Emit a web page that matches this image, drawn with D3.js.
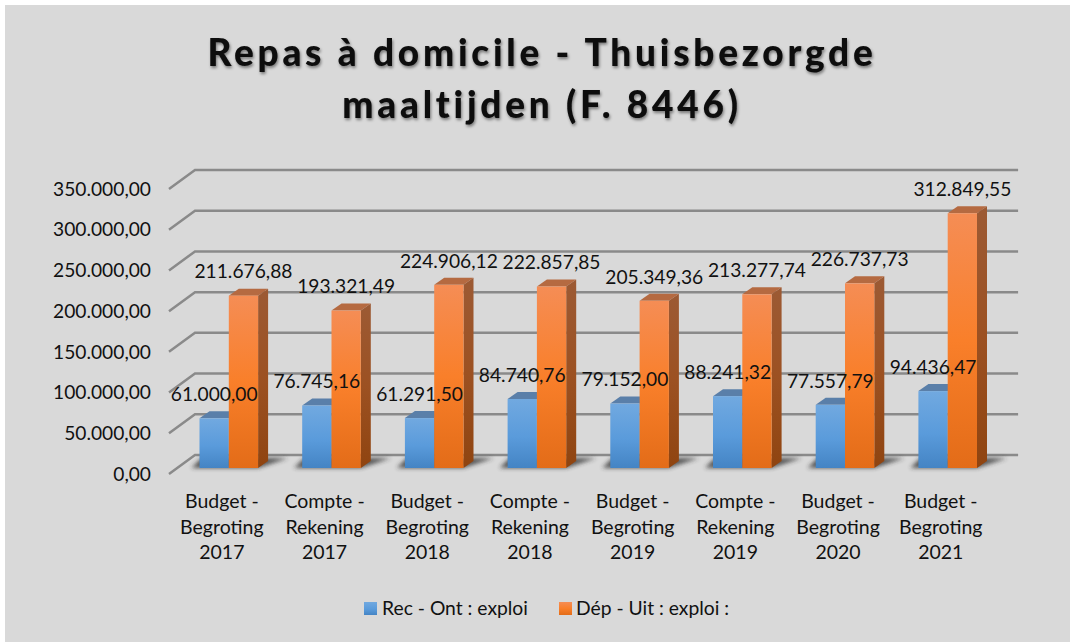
<!DOCTYPE html>
<html>
<head>
<meta charset="utf-8">
<script src="https://cdn.jsdelivr.net/npm/d3@7"></script>
<style>
  html, body { margin: 0; padding: 0; background: #fff; }
  svg { display: block; }
  text { font-family: Lato, sans-serif; fill: #111; }
</style>
</head>
<body>
<div class="chart"></div>
<script>
// data
var categories = [
  ['Budget -', 'Begroting', '2017'],
  ['Compte -', 'Rekening', '2017'],
  ['Budget -', 'Begroting', '2018'],
  ['Compte -', 'Rekening', '2018'],
  ['Budget -', 'Begroting', '2019'],
  ['Compte -', 'Rekening', '2019'],
  ['Budget -', 'Begroting', '2020'],
  ['Budget -', 'Begroting', '2021']
];
var recettes = [61000.00, 76745.16, 61291.50, 84740.76, 79152.00, 88241.32, 77557.79, 94436.47];
var depenses = [211676.88, 193321.49, 224906.12, 222857.85, 205349.36, 213277.74, 226737.73, 312849.55];
var yTicks = [0, 50000, 100000, 150000, 200000, 250000, 300000, 350000];
var titleLines = ['Repas à domicile - Thuisbezorgde', 'maaltijden (F. 8446)'];
var seriesNames = ['Rec - Ont : exploi', 'Dép - Uit : exploi :'];

var width = 1070, height = 642;
var svg = d3.select('.chart').append('svg').attr('width', width).attr('height', height);

// grey background, image has a small white margin top and left
svg.append('rect').attr('x', 5).attr('y', 5).attr('width', width - 5).attr('height', height - 5).attr('fill', '#d9d9d9');

var locale = d3.formatLocale({ decimal: ',', thousands: '.', grouping: [3], currency: ['', ''] });
var fmt = locale.format(',.2f');

// scales are for the front face of the bars
var idx = d3.range(categories.length);
var x0 = d3.scaleBand().domain(idx).range([177.5, 999.1]);
var x1 = d3.scaleBand().domain([0, 1]).range([22, 80.6]);
var y = d3.scaleLinear().domain([0, 350000]).range([468, 183]);

// 3d offsets
var barDx = 10, barDy = -7;
var backDx = 17.5, backDy = -13;
var frontDx = -8.5, frontDy = 6;

var defs = svg.append('defs');
function gradient(id, stops) {
  var g = defs.append('linearGradient').attr('id', id).attr('x1', 0).attr('y1', 0).attr('x2', 0).attr('y2', 1);
  stops.forEach(function (s) {
    g.append('stop').attr('offset', s[0]).attr('stop-color', s[1]);
  });
}
gradient('blueFront', [[0, '#71a9e0'], [0.55, '#5a9bdb'], [1, '#4484c4']]);
gradient('orangeFront', [[0, '#f58d55'], [0.5, '#f97f2a'], [1, '#e36c18']]);
gradient('orangeSide', [[0, '#9c5a34'], [0.5, '#9c5122'], [1, '#8f4410']]);
gradient('blueSide', [[0, '#4c76a4'], [1, '#2f5f92']]);
defs.append('filter').attr('id', 'blur').attr('x', '-20%').attr('y', '-100%').attr('width', '140%').attr('height', '300%')
  .append('feGaussianBlur').attr('stdDeviation', 2.2);
defs.append('filter').attr('id', 'titleShadow').attr('x', '-5%').attr('y', '-20%').attr('width', '110%').attr('height', '150%')
  .append('feDropShadow').attr('dx', 1).attr('dy', 2).attr('stdDeviation', 1.5).attr('flood-color', '#000').attr('flood-opacity', 0.45);

// title
svg.append('g')
  .attr('filter', 'url(#titleShadow)')
  .selectAll('text')
  .data(titleLines)
  .enter()
  .append('text')
  .attr('x', 542)
  .attr('y', function (d, i) { return 66 + i * 52; })
  .attr('text-anchor', 'middle')
  .attr('font-size', 37)
  .attr('font-weight', 900)
  .attr('letter-spacing', 3.75)
  .style('fill', '#0a0a0a')
  .text(function (d) { return d; });

// grid lines, slanted part and back wall part
var grid = svg.append('g').attr('fill', 'none').attr('stroke', '#8a8a8a').attr('stroke-width', 2.5);
grid.selectAll('path')
  .data(yTicks)
  .enter()
  .append('path')
  .attr('d', function (d) {
    var yy = y(d);
    return 'M' + (x0.range()[0] + frontDx) + ',' + (yy + frontDy) +
      'L' + (x0.range()[0] + backDx) + ',' + (yy + backDy) +
      'H' + (x0.range()[1] + backDx + 1.5);
  });

// y axis labels only
var yAxis = d3.axisLeft(y).tickValues(yTicks).tickSize(0).tickPadding(0).tickFormat(fmt);
var yG = svg.append('g')
  .attr('transform', 'translate(151,' + frontDy + ')')
  .call(yAxis);
yG.select('.domain').remove();
yG.selectAll('text').attr('font-size', 19.2).style('font-family', 'Lato, sans-serif').style('fill', '#111');

// shadow on the floor
svg.append('g').selectAll('path')
  .data(idx)
  .enter()
  .append('path')
  .attr('filter', 'url(#blur)')
  .attr('fill', '#2a2a2a')
  .attr('opacity', 0.75)
  .attr('d', function (i) {
    var l = x0(i) + x1(0) - 8, r = x0(i) + x1(1) + x1.bandwidth();
    return 'M' + l + ',' + y(0) + 'L' + r + ',' + y(0) + 'L' + (r + 30) + ',' + (y(0) - 10) + 'L' + (l + 10) + ',' + (y(0) - 10) + 'Z';
  });

// bars
function drawBars(values, s, front, side, top) {
  var g = svg.append('g');
  var bw = x1.bandwidth();
  // top face
  g.selectAll('.top')
    .data(values)
    .enter()
    .append('path')
    .attr('fill', top)
    .attr('d', function (d, i) {
      var l = x0(i) + x1(s), t = y(d);
      return 'M' + l + ',' + t + 'l' + barDx + ',' + barDy + 'h' + bw + 'l' + (-barDx) + ',' + (-barDy) + 'Z';
    });
  // side face
  g.selectAll('.side')
    .data(values)
    .enter()
    .append('path')
    .attr('fill', side)
    .attr('d', function (d, i) {
      var r = x0(i) + x1(s) + bw, t = y(d);
      return 'M' + r + ',' + t + 'l' + barDx + ',' + barDy + 'V' + (y(0) + barDy) + 'l' + (-barDx) + ',' + (-barDy) + 'Z';
    });
  // front face
  g.selectAll('rect')
    .data(values)
    .enter()
    .append('rect')
    .attr('x', function (d, i) { return x0(i) + x1(s); })
    .attr('y', function (d) { return y(d); })
    .attr('width', bw)
    .attr('height', function (d) { return y(0) - y(d); })
    .attr('fill', front);
}
drawBars(recettes, 0, 'url(#blueFront)', 'url(#blueSide)', '#5a7fa9');
drawBars(depenses, 1, 'url(#orangeFront)', 'url(#orangeSide)', '#b56a41');

// value labels on top of everything
function drawLabels(values, s) {
  svg.append('g').selectAll('text')
    .data(values)
    .enter()
    .append('text')
    .attr('x', function (d, i) { return x0(i) + x1(s) + x1.bandwidth() / 2; })
    .attr('y', function (d) { return y(d) - 24; })
    .attr('dy', '0.35em')
    .attr('text-anchor', 'middle')
    .attr('font-size', 19.2)
    .text(function (d) { return fmt(d); });
}
drawLabels(recettes, 0);
drawLabels(depenses, 1);

// category labels
var catG = svg.append('g').selectAll('text')
  .data(categories)
  .enter()
  .append('text')
  .attr('text-anchor', 'middle')
  .attr('font-size', 19.5);
catG.selectAll('tspan')
  .data(function (d, i) { return d.map(function (t) { return { t: t, i: i }; }); })
  .enter()
  .append('tspan')
  .attr('x', function (d) { return x0(d.i) + x0.bandwidth() / 2 - 7; })
  .attr('y', function (d, j) { return 508 + j * 25.7; })
  .text(function (d) { return d.t; });

// legend
var legendX = [364, 559];
var legendFill = ['url(#blueFront)', 'url(#orangeFront)'];
var legend = svg.append('g').selectAll('g')
  .data(seriesNames)
  .enter()
  .append('g')
  .attr('transform', function (d, i) { return 'translate(' + legendX[i] + ',602)'; });
legend.append('rect')
  .attr('width', 13)
  .attr('height', 13)
  .attr('fill', function (d, i) { return legendFill[i]; });
legend.append('text')
  .attr('x', function (d, i) { return i === 0 ? 18 : 17; })
  .attr('y', 13)
  .attr('font-size', 19.3)
  .text(function (d) { return d; });
</script>
</body>
</html>
